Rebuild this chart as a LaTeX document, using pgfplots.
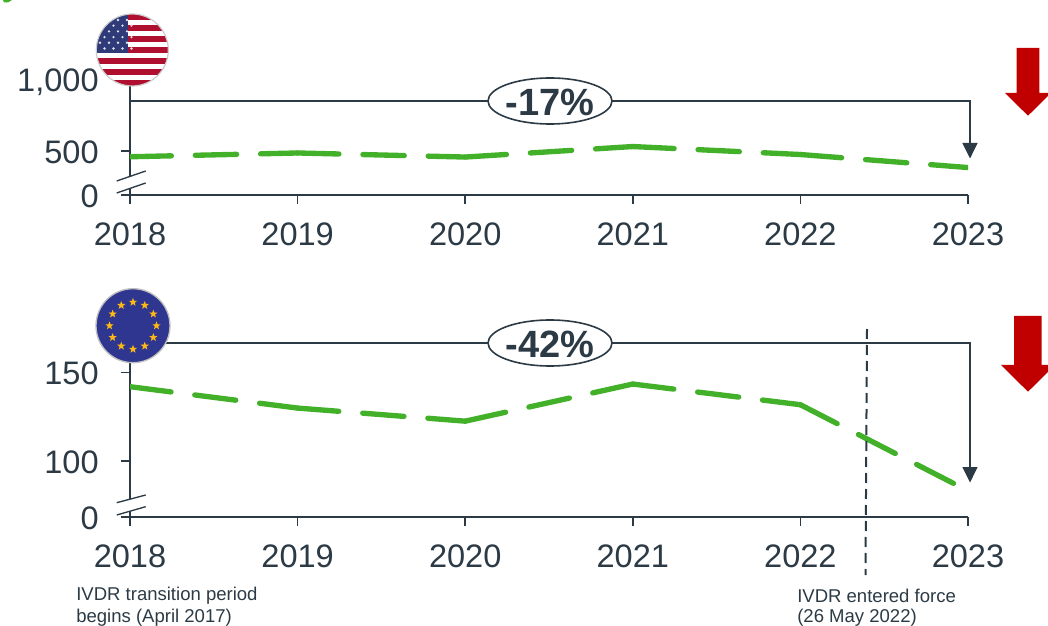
\documentclass[border=0pt]{standalone}
\usepackage{pgfplots}
\pgfplotsset{compat=1.18}
\usepackage{fontspec}
\setmainfont{Liberation Sans}
\usetikzlibrary{shapes.geometric,calc}
\definecolor{dk}{HTML}{2B3A45}
\definecolor{grn}{HTML}{43B02A}
\definecolor{rd}{HTML}{C00000}
\definecolor{usred}{HTML}{B01030}
\definecolor{usblue}{HTML}{2F3A78}
\definecolor{eublue}{HTML}{2E3690}
\definecolor{euyel}{HTML}{FDB913}
\pgfplotsset{
  brk/.style={
    scale only axis, width=628.5pt,
    axis lines=left, axis line style={dk,line width=1.25pt,-},
    xmin=2018, xmax=2023, xtick={2018,2019,2020,2021,2022,2023},
    xticklabels={2018,2019,2020,2021,2022,2023},
    tick style={dk,line width=1.25pt},
    tick align=outside, major tick length=6.5pt,
    ticklabel style={font=\fontsize{24.4}{26}\selectfont, text=dk},
    x tick label style={yshift=-10.5pt},
    y tick label style={xshift=-13.5pt,yshift=-1pt},
    xtick pos=bottom, ytick pos=left,
    scaled y ticks=false,
  },
  seg/.style={grn,line width=4pt,line cap=round,dash pattern=on 31pt off 18pt,forget plot},
}
\begin{document}
\begin{tikzpicture}
\useasboundingbox (0,0) rectangle (786pt,468.75pt);
\clip (0,0) rectangle (786pt,468.75pt);
% Top axis: px baseline 195, top 81
\begin{axis}[brk, at={(97.5pt,322.5pt)}, anchor=south west,
  height=85.5pt, ymin=186, ymax=1000,
  ytick={186,500,1000}, yticklabels={0,500,{1,000}}]
\addplot[seg] coordinates {(2018,459) (2019,486)};
\addplot[seg] coordinates {(2019,486) (2020,457)};
\addplot[seg] coordinates {(2020,457) (2021,532)};
\addplot[seg] coordinates {(2021,532) (2022,475)};
\addplot[seg] coordinates {(2022,475) (2023,382)};
\end{axis}
% Bottom axis: px baseline 517, 150 at 372.3
\begin{axis}[brk, at={(97.5pt,81pt)}, anchor=south west,
  height=135pt, ymin=68.2, ymax=170,
  ytick={68.2,100,150}, yticklabels={0,100,150}]
\addplot[seg] coordinates {(2018,141.9) (2019,129.8)};
\addplot[seg] coordinates {(2019,129.8) (2020,122.4)};
\addplot[seg] coordinates {(2020,122.4) (2021,143.4)};
\addplot[seg] coordinates {(2021,143.4) (2022,131.7)};
\addplot[seg] coordinates {(2022,131.7) (2023,83)};
\end{axis}
\begin{scope}[x=0.75pt,y=-0.75pt,yshift=468.75pt]
  % axis breaks
  \fill[white] (116,181) -- (146,171) -- (146,183) -- (116,193) -- cycle;
  \draw[dk,line width=1pt] (116.7,181) -- (145.7,171) (116.7,193) -- (145.7,183);
  \fill[white] (116,503) -- (146,495) -- (146,507) -- (116,515) -- cycle;
  \draw[dk,line width=1pt] (116.7,502.7) -- (145.7,495) (116.7,515) -- (145.7,506.7);
  % brackets top
  \draw[dk,line width=1.6pt] (130,101) -- (970,101) -- (970,145);
  \fill[dk] (962.3,143) -- (977.7,143) -- (970,158.5) -- cycle;
  \draw[dk,line width=1.2pt,fill=white] (550,101) ellipse [x radius=62,y radius=23];
  \node[inner sep=0pt,font=\bfseries\fontsize{28.5}{31}\selectfont,text=dk] at (550,102) {-17\%};
  % brackets bottom
  \draw[dk,line width=1.6pt] (165,343) -- (970,343) -- (970,469);
  \fill[dk] (962.3,467) -- (977.7,467) -- (970,482.5) -- cycle;
  % vertical dashed
  \draw[dk,line width=1.5pt,dash pattern=on 7.5pt off 4.5pt] (867,329) -- (865.5,575);
  \draw[dk,line width=1.2pt,fill=white] (550,343) ellipse [x radius=62,y radius=23];
  \node[inner sep=0pt,font=\bfseries\fontsize{28.5}{31}\selectfont,text=dk] at (550,344) {-42\%};
  % red arrows
  \fill[rd] (1016.7,48) -- (1039.3,48) -- (1039.3,93) -- (1051,93) -- (1028,115.7) -- (1005,93) -- (1016.7,93) -- cycle;
  \fill[rd] (1014,316) -- (1041.7,316) -- (1041.7,365) -- (1055,365) -- (1028,391.7) -- (1001,365) -- (1014,365) -- cycle;
  % US flag
  \begin{scope}
    \clip (132.3,50) circle (36);
    \fill[white] (96,14) rectangle (169,86);
    \foreach \i in {0,2,...,12} \fill[usred] (96,14+\i*5.54) rectangle (169,14+\i*5.54+5.54);
    \fill[usblue] (96,14) rectangle (127.7,52.7);
    \foreach \r in {0,...,5} \foreach \c in {0,...,3}
      \fill[white!85!usblue] ({100+\c*9+mod(\r,2)*4.5},{20+\r*5.7}) circle (1.3);
  \end{scope}
  \draw[black!20,line width=0.9pt] (132.3,50) circle (36);
  % EU flag
  \fill[eublue] (133,325.7) circle (37);
  \draw[black!25,line width=1pt] (133,325.7) circle (37);
  \foreach \a in {0,30,...,330}
    \node[star,star points=5,star point ratio=2.4,fill=euyel,inner sep=0pt,minimum size=6.5pt] at ($(133,325.7)+(\a:23.5)$) {};
  % notes
  \node[anchor=west,text=dk,font=\fontsize{13.9}{16}\selectfont,inner sep=0pt] at (76,596) {IVDR transition period};
  \node[anchor=west,text=dk,font=\fontsize{13.9}{16}\selectfont,inner sep=0pt] at (76,618) {begins (April 2017)};
  \node[anchor=west,text=dk,font=\fontsize{13.9}{16}\selectfont,inner sep=0pt] at (797,596) {IVDR entered force};
  \node[anchor=west,text=dk,font=\fontsize{13.9}{16}\selectfont,inner sep=0pt] at (797,618) {(26 May 2022)};
  % clipped heading fragment
  \fill[grn] (3,0) -- (12,0) -- (8,2.5) -- (4,2.5) -- cycle;
\end{scope}
\end{tikzpicture}
\end{document}
